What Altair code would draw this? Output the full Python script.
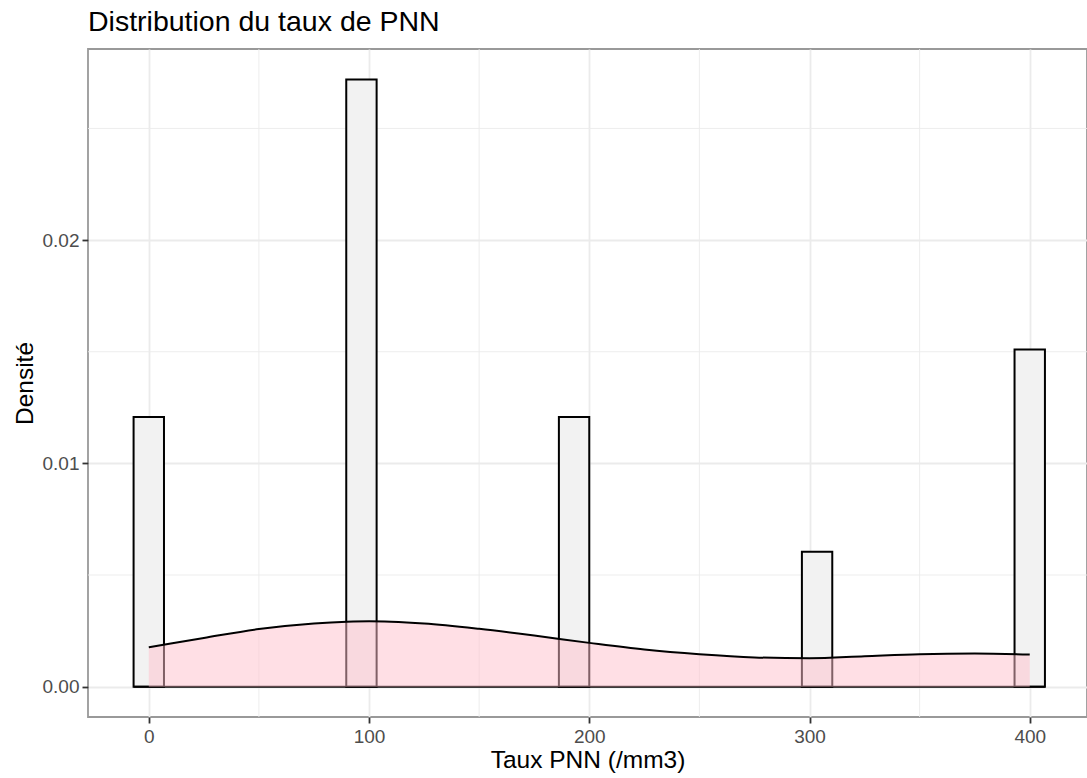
import altair as alt
import pandas as pd

# Histogram bins (density scale)
bin_left = [-6.90, 89.66, 186.21, 296.55, 393.10]
bin_right = [6.90, 103.45, 200.00, 310.34, 406.90]
bin_density = [0.01208, 0.02719, 0.01208, 0.00604, 0.01510]
hist_extent = [-6.90, 406.90]

# Kernel density curve
dens_x = [0, 10, 25, 50, 75, 90, 100, 110, 125, 150, 175, 200, 225, 250, 275, 300, 325, 350, 375, 400]
dens_y = [0.00176, 0.00193, 0.00218, 0.00258, 0.00283, 0.00291, 0.00293, 0.00291, 0.00283, 0.00259,
          0.00229, 0.00196, 0.00166, 0.00145, 0.00131, 0.00127, 0.00136, 0.00145, 0.00148, 0.00144]

x_ticks = [0, 100, 200, 300, 400]
y_ticks = [0.0, 0.01, 0.02]
x_minor = [50, 150, 250, 350]
y_minor = [0.005, 0.015, 0.025]

bars = pd.DataFrame({"left": bin_left, "right": bin_right, "density": bin_density})
base = pd.DataFrame({"left": [hist_extent[0]], "right": [hist_extent[1]], "density": [0.0]})
dens = pd.DataFrame({"left": dens_x, "density": dens_y})
mx = pd.DataFrame({"left": x_minor})
my = pd.DataFrame({"density": y_minor})

xs = alt.Scale(domain=[-27.6, 426.0], nice=False, zero=False)
ys = alt.Scale(domain=[-0.00136, 0.02856], nice=False, zero=False)

grid_c = "#EBEBEB"

x_axis = alt.Axis(values=x_ticks, format="d",
                  grid=True, gridColor=grid_c, gridWidth=1.8,
                  domain=False, ticks=True, tickSize=6, tickWidth=1.8, tickColor="#333333",
                  labelFontSize=19, labelColor="#4D4D4D", labelPadding=4,
                  titleFontSize=24.5, titleColor="black", titleFontWeight="normal",
                  titleBaseline="alphabetic", titleY=50)
y_axis = alt.Axis(values=y_ticks, format=".2f",
                  grid=True, gridColor=grid_c, gridWidth=1.8,
                  domain=False, ticks=True, tickSize=6, tickWidth=1.8, tickColor="#333333",
                  labelFontSize=19, labelColor="#4D4D4D", labelPadding=3,
                  titleFontSize=24.5, titleColor="black", titleFontWeight="normal",
                  titleBaseline="alphabetic", titleX=-56)

X = alt.X("left:Q", scale=xs, axis=x_axis, title="Taux PNN (/mm3)")
Y = alt.Y("density:Q", scale=ys, axis=y_axis, title="Densité")

minor_x = alt.Chart(mx).mark_rule(color=grid_c, strokeWidth=0.9).encode(x=X)
minor_y = alt.Chart(my).mark_rule(color=grid_c, strokeWidth=0.9).encode(y=Y)

hist = alt.Chart(bars).mark_rect(fill="#F2F2F2", stroke="black", strokeWidth=2).encode(
    x=X, x2="right:Q", y=Y, y2=alt.datum(0))

baseline = alt.Chart(base).mark_rule(color="black", strokeWidth=2).encode(
    x=X, x2="right:Q", y=Y)

area = alt.Chart(dens).mark_area(color="#FFC0CB", opacity=0.5, interpolate="monotone").encode(
    x=X, y=Y, y2=alt.datum(0))

line = alt.Chart(dens).mark_line(color="black", strokeWidth=2, interpolate="monotone").encode(
    x=X, y=Y)

chart = alt.layer(minor_x, minor_y, hist, baseline, area, line).properties(
    width=999, height=668,
    title=alt.TitleParams("Distribution du taux de PNN", anchor="start", frame="group",
                          fontSize=28.5, fontWeight="normal", color="black", offset=12),
    autosize=alt.AutoSizeParams(type="none"),
    padding={"left": 88, "top": 49, "right": 0, "bottom": 61},
).configure(font="Liberation Sans", background="white").configure_view(
    stroke="#999999", strokeWidth=1.8)

chart.save("out.html", embed_options={"renderer": "svg", "actions": False})
